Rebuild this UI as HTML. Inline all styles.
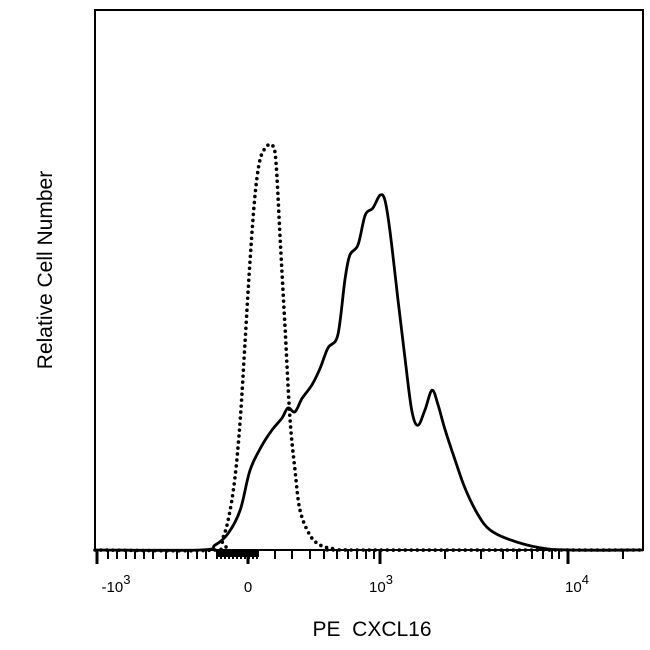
<!DOCTYPE html>
<html><head><meta charset="utf-8"><style>
html,body{margin:0;padding:0;background:#fff;}
svg{display:block;font-family:"Liberation Sans",Arial,sans-serif;}
</style></head><body>
<svg id="chart" width="650" height="650" viewBox="0 0 650 650">
<rect x="0" y="0" width="650" height="650" fill="#fff"/>
<g id="ticks"></g>
<g id="series"></g>
<rect x="95" y="10" width="548" height="540" fill="none" stroke="#000" stroke-width="2"/>
<g id="labels" font-size="15" fill="#000" text-anchor="middle">
<text x="116" y="592">-10<tspan dy="-8" font-size="13">3</tspan></text>
<text x="248" y="592">0</text>
<text x="381" y="592">10<tspan dy="-8" font-size="13">3</tspan></text>
<text x="577" y="592">10<tspan dy="-8" font-size="13">4</tspan></text>
</g>
<text x="372" y="636" font-size="21" text-anchor="middle">PE&#160;&#160;CXCL16</text>
<text transform="translate(52,270) rotate(-90)" font-size="21" text-anchor="middle">Relative Cell Number</text>
</svg>
<script>
// data (x in axis units 0-100, y in relative count 0-100)
const solidX = [0,19.2,21.9,24.3,26.5,28.3,30.5,32.3,34.1,35.2,36.5,37.8,39.6,41.1,42.5,44.3,45.6,46.5,48.0,49.3,50.7,52.0,52.9,53.8,55.3,56.6,57.8,58.9,60.2,61.5,62.6,63.9,65.7,67.5,69.9,72.1,75.7,81.2,86.7,100];
const solidY = [0,0,0.9,3.1,7.4,14.8,19.4,22.2,24.4,26.3,25.6,28.1,30.6,33.7,37.4,39.8,50,54.6,56.5,62,63.3,65.7,64.8,59.3,46.3,35.2,25.9,23.1,25.9,29.6,26.9,22.2,16.7,11.5,6.5,3.7,1.9,0.4,0,0];
const dottedX = [0,21.9,23.2,24.3,25.5,26.5,27.4,28.3,29.2,30.1,31.2,32.3,33.0,33.8,34.7,35.6,36.5,37.4,39.2,41.1,43.8,46.5,100];
const dottedY = [0,0,1.9,5.6,13,24.1,38.9,53.7,65.7,72.2,74.6,75,72.2,57.4,40.7,24.1,14.8,7.4,2.8,0.9,0.2,0,0];
const minorTickPx = [108,117,126,135,144,153,166,177,188,197,206,217,221,225,229,233,237,241,245,249,253,257,275,292,310,324,337,348,357,366,374,445,481,503,517,532,543,552,559,623];
const majorTickPx = [97,248,380,568];

const X0=95,X1=643,Y0=550,Y1=10;
const sx=v=>X0+(v/100)*(X1-X0);
const sy=v=>Y0-(v/100)*(Y0-Y1);
const NS="http://www.w3.org/2000/svg";
const series=document.getElementById('series');
function pathD(xs,ys){
  const P=xs.map((x,i)=>[sx(x),sy(ys[i])]);
  let d='M'+P[0][0].toFixed(1)+' '+P[0][1].toFixed(1);
  for(let i=0;i<P.length-1;i++){
    const p0=P[Math.max(0,i-1)],p1=P[i],p2=P[i+1],p3=P[Math.min(P.length-1,i+2)];
    const t=1/6;
    const c1x=p1[0]+(p2[0]-p0[0])*t, c1y=p1[1]+(p2[1]-p0[1])*t;
    const c2x=p2[0]-(p3[0]-p1[0])*t, c2y=p2[1]-(p3[1]-p1[1])*t;
    d+='C'+c1x.toFixed(1)+' '+c1y.toFixed(1)+' '+c2x.toFixed(1)+' '+c2y.toFixed(1)+' '+p2[0].toFixed(1)+' '+p2[1].toFixed(1);
  }
  return d;
}

const dot=document.createElementNS(NS,'path');


dot.setAttribute('d',pathD(dottedX,dottedY));
dot.setAttribute('fill','none');dot.setAttribute('stroke','#000');dot.setAttribute('stroke-width','3.6');
dot.setAttribute('stroke-dasharray','0 6');dot.setAttribute('stroke-linecap','round');dot.setAttribute('stroke-linejoin','round');
series.appendChild(dot);

const sol=document.createElementNS(NS,'path');


sol.setAttribute('d',pathD(solidX,solidY));
sol.setAttribute('fill','none');sol.setAttribute('stroke','#000');sol.setAttribute('stroke-width','2.8');sol.setAttribute('stroke-linejoin','round');
series.appendChild(sol);

const ticks=document.getElementById('ticks');
minorTickPx.forEach(p=>{
  const l=document.createElementNS(NS,'line');
  
  
  l.setAttribute('x1',p);l.setAttribute('x2',p);l.setAttribute('y1',550);l.setAttribute('y2',559);
  l.setAttribute('stroke','#000');l.setAttribute('stroke-width','2');
  ticks.appendChild(l);
});
majorTickPx.forEach(p=>{
  const l=document.createElementNS(NS,'line');
  
  
  l.setAttribute('x1',p);l.setAttribute('x2',p);l.setAttribute('y1',550);l.setAttribute('y2',564);
  l.setAttribute('stroke','#000');l.setAttribute('stroke-width','3');
  ticks.appendChild(l);
});
const blk=document.createElementNS(NS,'rect');


blk.setAttribute('x',217);blk.setAttribute('y',550);blk.setAttribute('width',42);blk.setAttribute('height',7);blk.setAttribute('fill','#000');
ticks.appendChild(blk);
</script>
</body></html>
